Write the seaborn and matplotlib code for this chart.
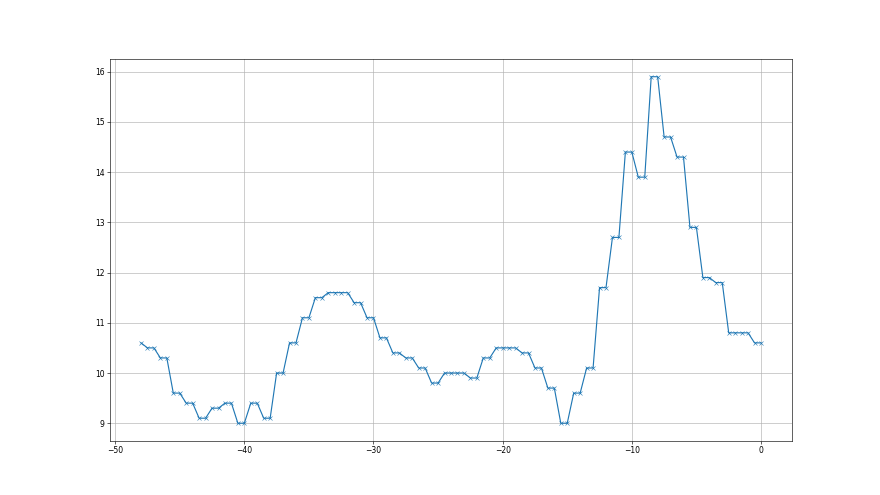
import matplotlib
matplotlib.use("Agg")
import matplotlib.pyplot as plt
import seaborn as sns

# x positions (half steps) and values
x_vals = [-48.0, -47.5, -47.0, -46.5, -46.0, -45.5, -45.0, -44.5, -44.0, -43.5,
          -43.0, -42.5, -42.0, -41.5, -41.0, -40.5, -40.0, -39.5, -39.0, -38.5,
          -38.0, -37.5, -37.0, -36.5, -36.0, -35.5, -35.0, -34.5, -34.0, -33.5,
          -33.0, -32.5, -32.0, -31.5, -31.0, -30.5, -30.0, -29.5, -29.0, -28.5,
          -28.0, -27.5, -27.0, -26.5, -26.0, -25.5, -25.0, -24.5, -24.0, -23.5,
          -23.0, -22.5, -22.0, -21.5, -21.0, -20.5, -20.0, -19.5, -19.0, -18.5,
          -18.0, -17.5, -17.0, -16.5, -16.0, -15.5, -15.0, -14.5, -14.0, -13.5,
          -13.0, -12.5, -12.0, -11.5, -11.0, -10.5, -10.0, -9.5, -9.0, -8.5,
          -8.0, -7.5, -7.0, -6.5, -6.0, -5.5, -5.0, -4.5, -4.0, -3.5,
          -3.0, -2.5, -2.0, -1.5, -1.0, -0.5, 0.0]
y_vals = [10.6, 10.5, 10.5, 10.3, 10.3, 9.6, 9.6, 9.4, 9.4, 9.1,
          9.1, 9.3, 9.3, 9.4, 9.4, 9.0, 9.0, 9.4, 9.4, 9.1,
          9.1, 10.0, 10.0, 10.6, 10.6, 11.1, 11.1, 11.5, 11.5, 11.6,
          11.6, 11.6, 11.6, 11.4, 11.4, 11.1, 11.1, 10.7, 10.7, 10.4,
          10.4, 10.3, 10.3, 10.1, 10.1, 9.8, 9.8, 10.0, 10.0, 10.0,
          10.0, 9.9, 9.9, 10.3, 10.3, 10.5, 10.5, 10.5, 10.5, 10.4,
          10.4, 10.1, 10.1, 9.7, 9.7, 9.0, 9.0, 9.6, 9.6, 10.1,
          10.1, 11.7, 11.7, 12.7, 12.7, 14.4, 14.4, 13.9, 13.9, 15.9,
          15.9, 14.7, 14.7, 14.3, 14.3, 12.9, 12.9, 11.9, 11.9, 11.8,
          11.8, 10.8, 10.8, 10.8, 10.8, 10.6, 10.6]

fig, ax = plt.subplots(figsize=(16, 9), dpi=55)
sns.lineplot(x=x_vals, y=y_vals, marker='x', color='tab:blue',
             markeredgecolor='tab:blue', markersize=6, linewidth=1.5, ax=ax)
ax.grid(True)
ax.set_xticks([-50, -40, -30, -20, -10, 0])
ax.set_yticks([9, 10, 11, 12, 13, 14, 15, 16])
fig.savefig('out.png')
